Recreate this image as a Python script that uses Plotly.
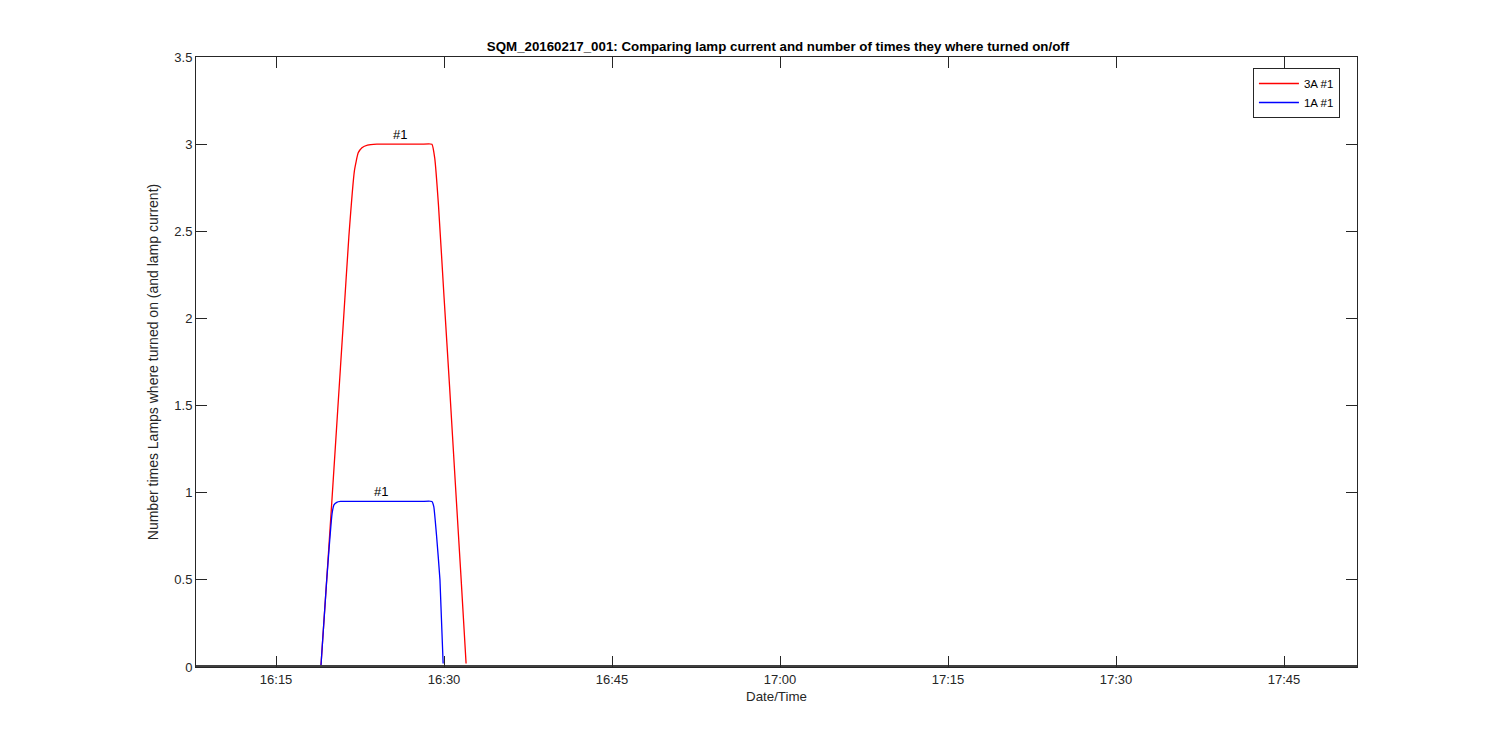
import plotly.graph_objects as go

DAY = "2016-02-17 "

# 3A lamp current (#1)
t_3a = ["16:19:00", "16:19:30", "16:20:00", "16:20:30", "16:21:00", "16:21:30", "16:22:00",
        "16:22:20", "16:22:40", "16:23:10", "16:24:00", "16:25:00", "16:26:00", "16:27:00",
        "16:28:00", "16:28:55", "16:29:10", "16:29:30", "16:30:00", "16:30:30", "16:31:00",
        "16:31:30", "16:31:58"]
v_3a = [0.00, 0.48, 0.97, 1.47, 1.97, 2.47, 2.85,
        2.95, 2.98, 2.995, 3.00, 3.00, 3.00, 3.00,
        3.00, 3.00, 2.92, 2.65, 2.12, 1.60, 1.06,
        0.53, 0.02]

# 1A lamp current (#1)
t_1a = ["16:19:00", "16:19:30", "16:20:00", "16:20:10", "16:20:25", "16:20:45", "16:22:00",
        "16:24:00", "16:26:00", "16:28:00", "16:28:55", "16:29:05", "16:29:20", "16:29:38",
        "16:29:55"]
v_1a = [0.00, 0.48, 0.88, 0.93, 0.945, 0.95, 0.95,
        0.95, 0.95, 0.95, 0.95, 0.92, 0.75, 0.50,
        0.02]

# lamps off (zero level)
t_off = ["16:07:51", "16:19:00", "16:29:55", "16:31:58", "17:51:31"]
v_off = [0.005, 0.005, 0.005, 0.005, 0.005]

labels = ["3A #1", "1A #1"]
ann_text = ["#1", "#1"]
ann_t = ["16:26:04", "16:24:22"]
ann_v = [3.0, 0.95]

x_range = ["16:07:51", "17:51:31"]
x_ticks = ["16:15", "16:30", "16:45", "17:00", "17:15", "17:30", "17:45"]
y_ticks = [0, 0.5, 1, 1.5, 2, 2.5, 3, 3.5]
y_tick_text = ["0", "0.5", "1", "1.5", "2", "2.5", "3", "3.5"]

fig = go.Figure()
fig.add_trace(go.Scatter(x=[DAY + t for t in t_3a], y=v_3a, mode="lines", name=labels[0],
                         line=dict(color="#ff0000", width=1.3, shape="spline", smoothing=0.4)))
fig.add_trace(go.Scatter(x=[DAY + t for t in t_1a], y=v_1a, mode="lines", name=labels[1],
                         line=dict(color="#0000ff", width=1.3, shape="spline", smoothing=0.4)))
fig.add_trace(go.Scatter(x=[DAY + t for t in t_off], y=v_off, mode="lines", name="off",
                         line=dict(color="#404040", width=2.2), showlegend=False, hoverinfo="skip"))

for txt, t, v in zip(ann_text, ann_t, ann_v):
    fig.add_annotation(x=DAY + t, y=v, text=txt, showarrow=False, yanchor="bottom", yshift=0,
                       font=dict(size=13, color="#000000"))

fig.update_layout(
    width=1500, height=750,
    margin=dict(l=188, r=151, t=49, b=91, autoexpand=False),
    paper_bgcolor="white", plot_bgcolor="white",
    font=dict(family="Liberation Sans, Arial, sans-serif", size=13, color="#262626"),
    title=dict(text="<b>SQM_20160217_001: Comparing lamp current and number of times they where turned on/off</b>",
               x=770 / 1500, xanchor="center", y=1 - 38 / 750, yanchor="middle",
               font=dict(size=13.3, color="#000000")),
    legend=dict(x=0.9853, y=0.982, xanchor="right", yanchor="top", bgcolor="white",
                bordercolor="#262626", borderwidth=1, font=dict(size=11.5, color="#000000"),
                tracegroupgap=0, itemwidth=40),
    showlegend=True,
)
fig.update_xaxes(range=[DAY + x_range[0], DAY + x_range[1]],
                 tickvals=[DAY + t for t in x_ticks], ticktext=x_ticks,
                 ticks="inside", ticklen=11, tickcolor="#262626", tickwidth=1,
                 showline=True, linecolor="#262626", linewidth=1, mirror="ticks",
                 showgrid=False, zeroline=False, automargin=False,
                 title=dict(text="Date/Time", standoff=6, font=dict(size=13.3, color="#262626")))
fig.update_yaxes(range=[0, 3.5], tickvals=y_ticks, ticktext=y_tick_text,
                 ticks="inside", ticklen=11, tickcolor="#262626", tickwidth=1,
                 showline=True, linecolor="#262626", linewidth=1, mirror="ticks",
                 showgrid=False, zeroline=False, automargin=False,
                 title=dict(text="Number times Lamps where turned on (and lamp current)", standoff=12,
                            font=dict(size=14, color="#262626")))

fig.write_html("out.html")
